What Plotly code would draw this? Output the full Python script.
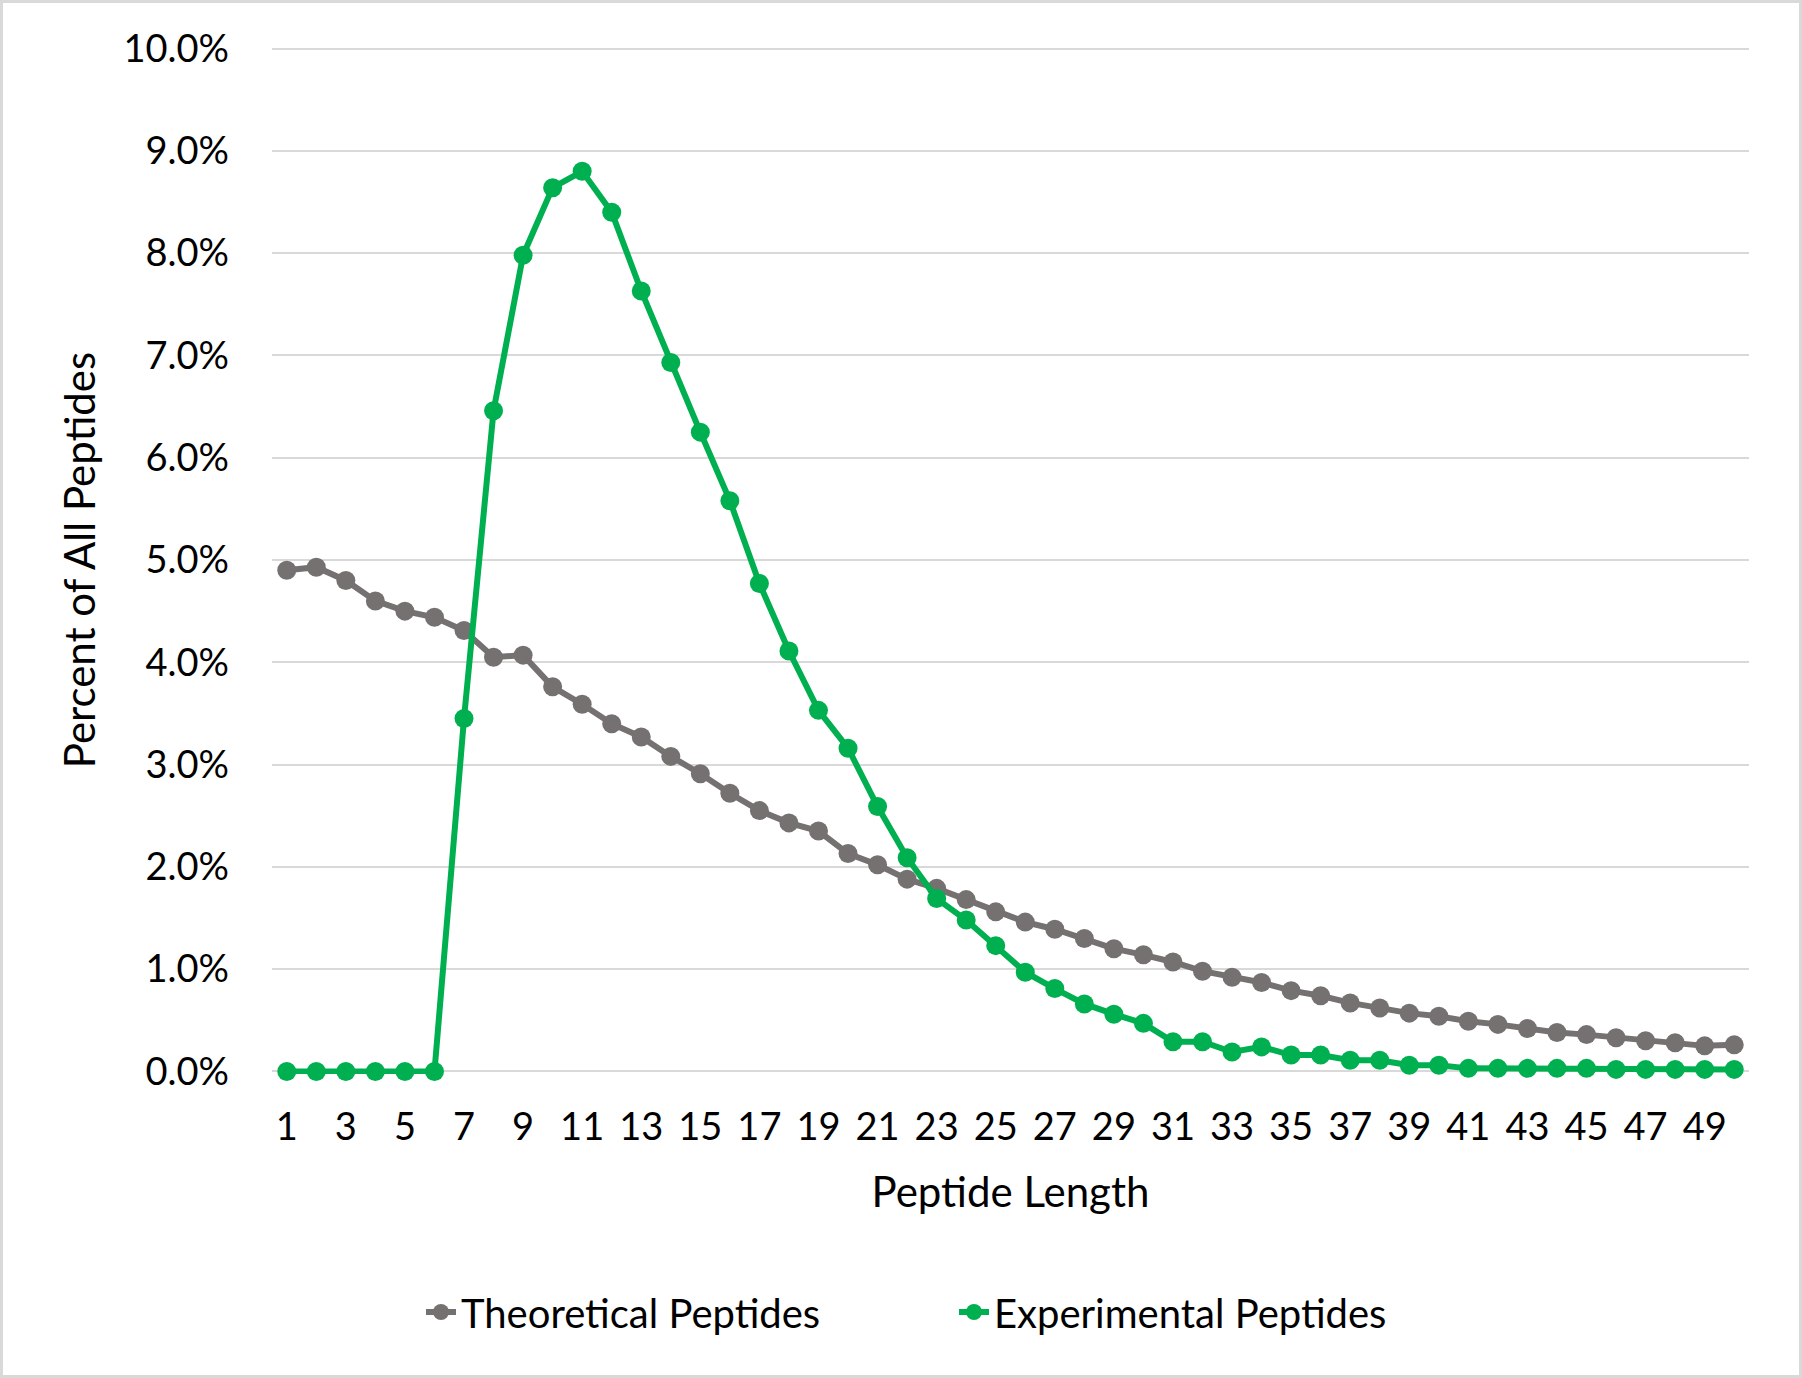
import plotly.graph_objects as go

peptide_length = list(range(1, 51))
theoretical = [4.90, 4.93, 4.80, 4.60, 4.50, 4.44, 4.31, 4.05, 4.07, 3.76,
               3.59, 3.40, 3.27, 3.08, 2.91, 2.72, 2.55, 2.43, 2.35, 2.13,
               2.02, 1.88, 1.79, 1.68, 1.56, 1.46, 1.39, 1.30, 1.20, 1.14,
               1.07, 0.98, 0.92, 0.87, 0.79, 0.74, 0.67, 0.62, 0.57, 0.54,
               0.49, 0.46, 0.42, 0.38, 0.36, 0.33, 0.30, 0.28, 0.25, 0.26]
experimental = [0.0, 0.0, 0.0, 0.0, 0.0, 0.0, 3.45, 6.46, 7.98, 8.64,
                8.80, 8.40, 7.63, 6.93, 6.25, 5.58, 4.77, 4.11, 3.53, 3.16,
                2.59, 2.09, 1.69, 1.48, 1.23, 0.97, 0.81, 0.66, 0.56, 0.47,
                0.29, 0.29, 0.19, 0.24, 0.16, 0.16, 0.11, 0.11, 0.06, 0.06,
                0.03, 0.03, 0.03, 0.03, 0.03, 0.02, 0.02, 0.02, 0.02, 0.02]
x_ticks = list(range(1, 51, 2))
y_ticks = [i / 100 for i in range(0, 11)]

GRAY = "#767171"
GREEN = "#00B050"
FONT = "Lato"

fig = go.Figure()
fig.add_trace(go.Scatter(
    x=peptide_length, y=[v / 100 for v in theoretical], name="Theoretical Peptides",
    mode="lines+markers", line=dict(color=GRAY, width=6),
    marker=dict(color=GRAY, size=19), cliponaxis=False))
fig.add_trace(go.Scatter(
    x=peptide_length, y=[v / 100 for v in experimental], name="Experimental Peptides",
    mode="lines+markers", line=dict(color=GREEN, width=6),
    marker=dict(color=GREEN, size=19), cliponaxis=False))

W, H = 1802, 1378
# y range padded slightly so the 0% and 10% gridlines are drawn
pad = 0.00025
ml, mr, mt, mb = 272, 53, 46, 304
pw, ph = W - ml - mr, H - mt - mb

fig.update_layout(
    width=W, height=H,
    margin=dict(l=ml, r=mr, t=mt, b=mb),
    paper_bgcolor="white", plot_bgcolor="white",
    font=dict(family=FONT, size=38, color="#000000"),
    showlegend=True,
    legend=dict(orientation="h", x=(421 - ml) / pw, xanchor="left",
                y=-(1312 - mt - ph) / ph, yanchor="middle",
                font=dict(size=40), entrywidth=488, entrywidthmode="pixels"),
    xaxis=dict(range=[0.5, 50.5], tickmode="array", tickvals=x_ticks,
               ticktext=[str(v) for v in x_ticks], showgrid=False,
               zeroline=False, showline=False, ticks="",
               ticklabelstandoff=27,
               title=dict(text="Peptide Length", standoff=30, font=dict(size=42))),
    yaxis=dict(range=[-pad, 0.10 + pad], tickmode="array", tickvals=y_ticks,
               tickformat=".1%", showgrid=True, gridcolor="#D9D9D9", gridwidth=2,
               zeroline=False, showline=False, ticks="",
               ticklabelstandoff=42,
               title=dict(text="Percent of All Peptides", standoff=14, font=dict(size=42))),
    shapes=[dict(type="rect", xref="paper", yref="paper",
                 x0=-(ml - 1.5) / pw, x1=1 + (mr - 1.5) / pw,
                 y0=-(mb - 1.5) / ph, y1=1 + (mt - 1.5) / ph,
                 line=dict(color="#D9D9D9", width=3), layer="below")],
)

fig.write_html("out.html", config={"displayModeBar": False},
               post_script="document.body.style.margin='0';")
